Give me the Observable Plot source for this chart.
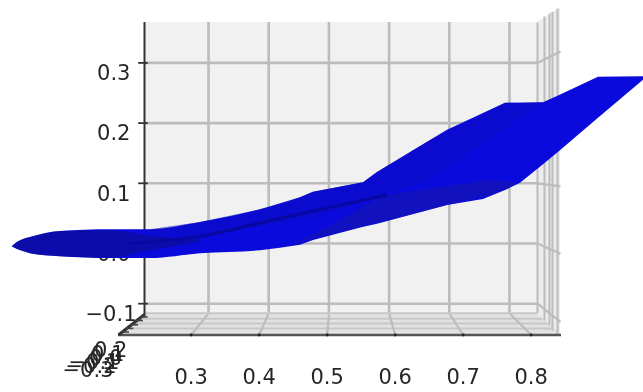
<!DOCTYPE html>
<html>
<head>
<meta charset="utf-8">
<script src="https://cdn.jsdelivr.net/npm/d3@7"></script>
<script src="https://cdn.jsdelivr.net/npm/@observablehq/plot@0.6"></script>
<style>
html,body{margin:0;padding:0;background:#fff}
svg{display:block;filter:blur(0.65px)}
</style>
</head>
<body>
<div id="chart"></div>
<script>
const xTicks = [0.3, 0.4, 0.5, 0.6, 0.7, 0.8];
const yTicks = [0.3, 0.2, 0.1, 0.0, -0.1];
const yLabelX = [0.1704, 0.1704, 0.1704, 0.1704, 0.1804];
const zTickLabels = ["0.2", "0.1", "0.0", "\u22120.1", "\u22120.2", "\u22120.3"];
const zLabelX = [0.1654, 0.1604, 0.1571, 0.1521, 0.1472, 0.1422];
const zLabelY = [-0.178, -0.184, -0.191, -0.198, -0.204, -0.211];
const zAxisTickX = [0.1870, 0.1790, 0.1710, 0.1630, 0.1560];
const zAxisTickY = [-0.122, -0.128, -0.135, -0.141, -0.147];

const wallLeft = 0.1937, wallRight = 0.8465, wallTop = 0.367, wallBottom = -0.116;
const floorFront = -0.152, floorFrontLeft = 0.1505, floorFrontRight = 0.8864;
const rightWallEnd = 0.8847;
const rightStripX = [0.8465, 0.8581, 0.8664, 0.8714, 0.8797];
const rightStripTop = [0.367, 0.377, 0.382, 0.385, 0.390];
const rightStripBottom = [-0.116, -0.128, -0.136, -0.145, -0.153];
const rightGridEnd = [0.319, 0.213, 0.095, -0.017, -0.130];
const floorBandY = [-0.125, -0.133, -0.141];
const floorBandX1 = [0.1837, 0.1738, 0.1638];
const floorBandX2 = [0.8548, 0.8631, 0.8731];

// surface silhouette: the rounded left part and the straight-edged right part
const surfLeftX = [-0.0256,-0.0173,-0.0090,0.0043,0.0542,0.1372,0.2037,0.2867,0.3864,0.4528];
const surfLeftTop = [-0.005,0.002,0.006,0.010,0.020,0.023,0.023,0.035,0.056,0.076];
const surfLeftBottom = [-0.006,-0.010,-0.013,-0.017,-0.022,-0.025,-0.025,-0.017,-0.012,-0.003];
const surfRightX = [0.4528,0.4744,0.5575,0.5807,0.697,0.7568,0.7934,0.8183,0.8565,0.8797,0.9478,1.0226];
const surfRightTop = [0.076,0.085,0.101,0.118,0.188,0.216,0.233,0.233,0.234,0.244,0.276,0.277];
const surfRightBottom = [-0.003,0.005,0.027,0.032,0.063,0.073,0.088,0.100,0.131,0.150,0.208,0.271];

// darker overlapping sheets
const tipX = [-0.0256,-0.0090,0.0043,0.0542,0.1372,0.2037,0.2867];
const tipTop = [-0.005,0.006,0.010,0.020,0.021,0.012,0.006];
const tipBottom = [-0.006,-0.013,-0.017,-0.022,-0.024,-0.012,0.002];
const upperX = [0.2037,0.2867,0.3864,0.4528,0.4744,0.5575,0.5807,0.6688,0.7934,0.8565];
const upperTop = [0.023,0.035,0.056,0.076,0.085,0.101,0.118,0.171,0.233,0.234];
const upperBottom = [0.010,0.012,0.028,0.038,0.043,0.068,0.078,0.105,0.191,0.234];
const lowerX = [0.4362,0.5027,0.5857,0.697,0.7684,0.8183];
const lowerTop = [-0.003,0.028,0.078,0.095,0.105,0.100];
const lowerBottom = [-0.003,0.014,0.034,0.063,0.079,0.100];
const creaseX = [0.1704,0.2867,0.4196,0.5027,0.594];
const creaseY = [0.0,0.012,0.042,0.060,0.080];

const zip = (xs, a, b) => xs.map((x, i) => ({x, a: a[i], b: b ? b[i] : null}));
const front = v => 0.522 + (v - 0.522) * 1.1296;
const font = {fontSize: 21, fill: "#262626", fontFamily: "DejaVu Sans"};
const gridC = "#bcbcbc";
const blue = "#0a0adc";

const chart = Plot.plot({
  width: 643, height: 392,
  marginTop: 0, marginRight: 0, marginBottom: 0, marginLeft: 0,
  style: {background: "#fff", overflow: "hidden"},
  x: {type: "linear", domain: [0.3, 0.8], range: [208, 509], axis: null},
  y: {type: "linear", domain: [0, 0.3], range: [243, 62.4], axis: null},
  marks: [
    // panes
    Plot.rect([0], {x1: wallLeft, x2: wallRight, y1: wallBottom, y2: wallTop, fill: "#f1f1f1"}),
    Plot.areaY(zip([wallRight, rightWallEnd], [wallBottom, floorFront], [wallTop, 0.392]), {x: "x", y1: "a", y2: "b", fill: "#ececec"}),
    Plot.areaY(zip([floorFrontLeft, wallLeft, wallRight, floorFrontRight], [floorFront, floorFront, floorFront, floorFront], [floorFront, wallBottom, wallBottom, floorFront]), {x: "x", y1: "a", y2: "b", fill: "#e2e2e2"}),
    // back wall grid
    Plot.ruleX(xTicks, {x: d => d, y1: wallBottom, y2: wallTop, stroke: gridC, strokeWidth: 2.6}),
    Plot.ruleY(yTicks, {y: d => d, x1: wallLeft, x2: wallRight, stroke: gridC, strokeWidth: 2.6}),
    // right wall grid
    Plot.link(rightStripX, {x1: d => d, x2: d => d, y1: (d, i) => rightStripBottom[i], y2: (d, i) => rightStripTop[i], stroke: gridC, strokeWidth: 2}),
    Plot.link(yTicks, {x1: wallRight, y1: d => d, x2: rightWallEnd, y2: (d, i) => rightGridEnd[i], stroke: gridC, strokeWidth: 2.2}),
    // floor grid
    Plot.link(floorBandY, {x1: (d, i) => floorBandX1[i], x2: (d, i) => floorBandX2[i], y1: d => d, y2: d => d, stroke: "#c8c8c8", strokeWidth: 2}),
    Plot.link(xTicks, {x1: d => d, y1: wallBottom, x2: d => front(d), y2: floorFront, stroke: gridC, strokeWidth: 2.2}),
    Plot.ruleY([wallBottom], {x1: wallLeft, x2: wallRight, stroke: "#c8c8c8", strokeWidth: 2}),
    // axes
    Plot.ruleX([wallLeft], {y1: -0.122, y2: wallTop, stroke: "#333", strokeWidth: 2}),
    Plot.ruleY(yTicks, {y: d => d, x1: 0.184, x2: 0.2, stroke: "#333", strokeWidth: 1.8}),
    Plot.ruleY([floorFront], {x1: floorFrontLeft, x2: floorFrontRight, stroke: "#555", strokeWidth: 2.6}),
    Plot.link([0], {x1: wallLeft, y1: -0.118, x2: floorFrontLeft, y2: floorFront, stroke: "#333", strokeWidth: 3}),
    Plot.link(zAxisTickX, {x1: d => d, x2: d => d + 0.012, y1: (d, i) => zAxisTickY[i], y2: (d, i) => zAxisTickY[i], stroke: "#444", strokeWidth: 1.6}),
    Plot.dot(xTicks, {x: d => front(d), y: floorFront, r: 1.4, fill: "#222"}),
    // tick labels
    Plot.text(yTicks, {x: (d, i) => yLabelX[i], y: d => d - 0.0175, text: d => d === 0 ? "0.0" : d < 0 ? "\u2212" + d3.format(".1f")(-d) : d3.format(".1f")(d), textAnchor: "end", ...font}),
    Plot.text(xTicks, {x: d => front(d), y: -0.2215, text: d => d3.format(".1f")(d), textAnchor: "middle", ...font}),
    Plot.text(zTickLabels, {x: (d, i) => zLabelX[i], y: (d, i) => zLabelY[i], text: d => d, textAnchor: "end", ...font}),
    // surface
    Plot.areaY(zip(surfLeftX, surfLeftBottom, surfLeftTop), {x: "x", y1: "a", y2: "b", fill: blue, curve: "monotone-x"}),
    Plot.areaY(zip(surfRightX, surfRightBottom, surfRightTop), {x: "x", y1: "a", y2: "b", fill: blue}),
    Plot.areaY(zip(tipX, tipBottom, tipTop), {x: "x", y1: "a", y2: "b", fill: "#0e0e8f", fillOpacity: 0.65, curve: "monotone-x"}),
    Plot.areaY(zip(upperX, upperBottom, upperTop), {x: "x", y1: "a", y2: "b", fill: "#0d0dc4", fillOpacity: 0.55}),
    Plot.areaY(zip(lowerX, lowerBottom, lowerTop), {x: "x", y1: "a", y2: "b", fill: "#1616ae", fillOpacity: 0.6}),
    Plot.line(zip(creaseX, creaseY), {x: "x", y: "a", stroke: "#0808a0", strokeWidth: 3, curve: "monotone-x"})
  ]
});
document.getElementById("chart").append(chart);
</script>
</body>
</html>
